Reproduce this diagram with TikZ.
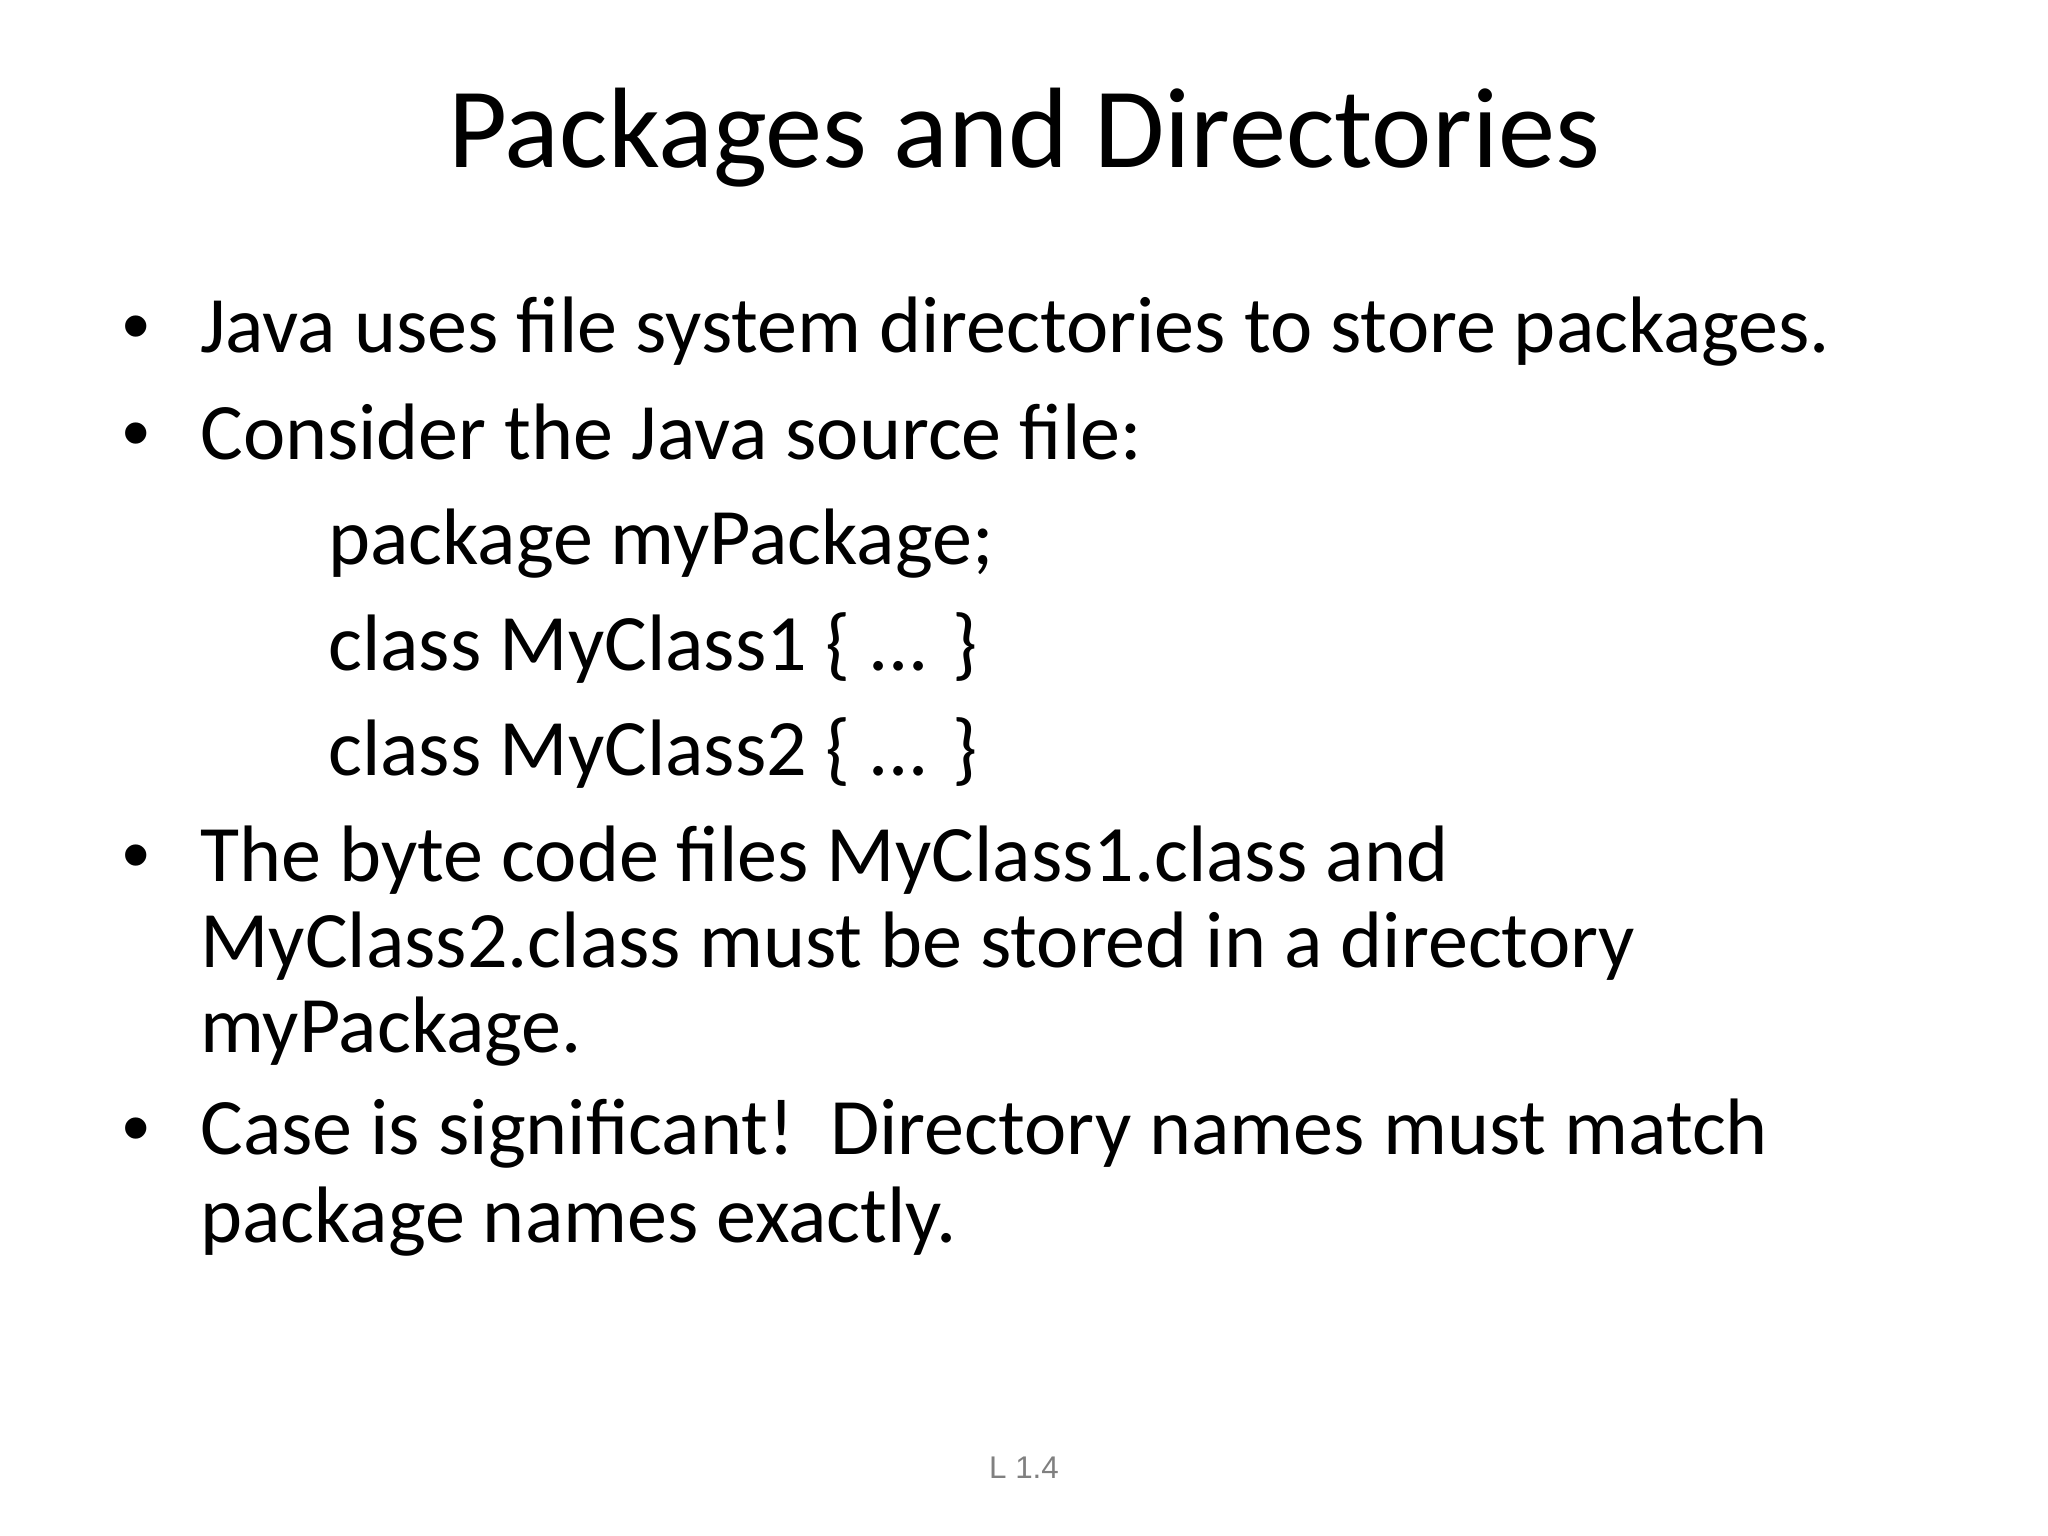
\documentclass[tikz,border=0pt]{standalone}
\usepackage{fontspec}
\setmainfont{Carlito}
\newfontfamily\footfont{Liberation Sans}
\begin{document}
\begin{tikzpicture}[x=0.5pt,y=-0.5pt,
  body/.style={anchor=base west,inner sep=0pt,font=\fontsize{30.65pt}{37pt}\selectfont},
  dot/.style={anchor=base,inner sep=0pt,font=\footfont\fontsize{30pt}{36pt}\selectfont}]
\useasboundingbox (0,0) rectangle (1568,1176);
\node[anchor=base,inner sep=0pt,font=\fontsize{43.8pt}{53pt}\selectfont] (title) at (784,128) {Packages and Directories};
\node[dot] (b1) at (104,270) {•};
\node[body] (l1) at (153,270) {Java uses file system directories to store packages.};
\node[dot] (b2) at (104,352) {•};
\node[body] (l2) at (153,352) {Consider the Java source file:};
\node[body] (c1) at (251,432) {package myPackage;};
\node[body] (c2) at (251,513) {class MyClass1 \{ ... \}};
\node[body] (c3) at (251,594) {class MyClass2 \{ ... \}};
\node[dot] (b3) at (104,675) {•};
\node[body] (l3) at (153,675) {The byte code files MyClass1.class and};
\node[body] (l4) at (153,741) {MyClass2.class must be stored in a directory};
\node[body] (l5) at (153,806) {myPackage.};
\node[dot] (b4) at (104,884) {•};
\node[body] (l6) at (153,884) {Case is significant!\ \ Directory names must match};
\node[body] (l7) at (153,951) {package names exactly.};
\node[anchor=base,inner sep=0pt,text=gray,font=\footfont\fontsize{12pt}{14pt}\selectfont] (foot) at (784,1132) {L 1.4};
\end{tikzpicture}
\end{document}
